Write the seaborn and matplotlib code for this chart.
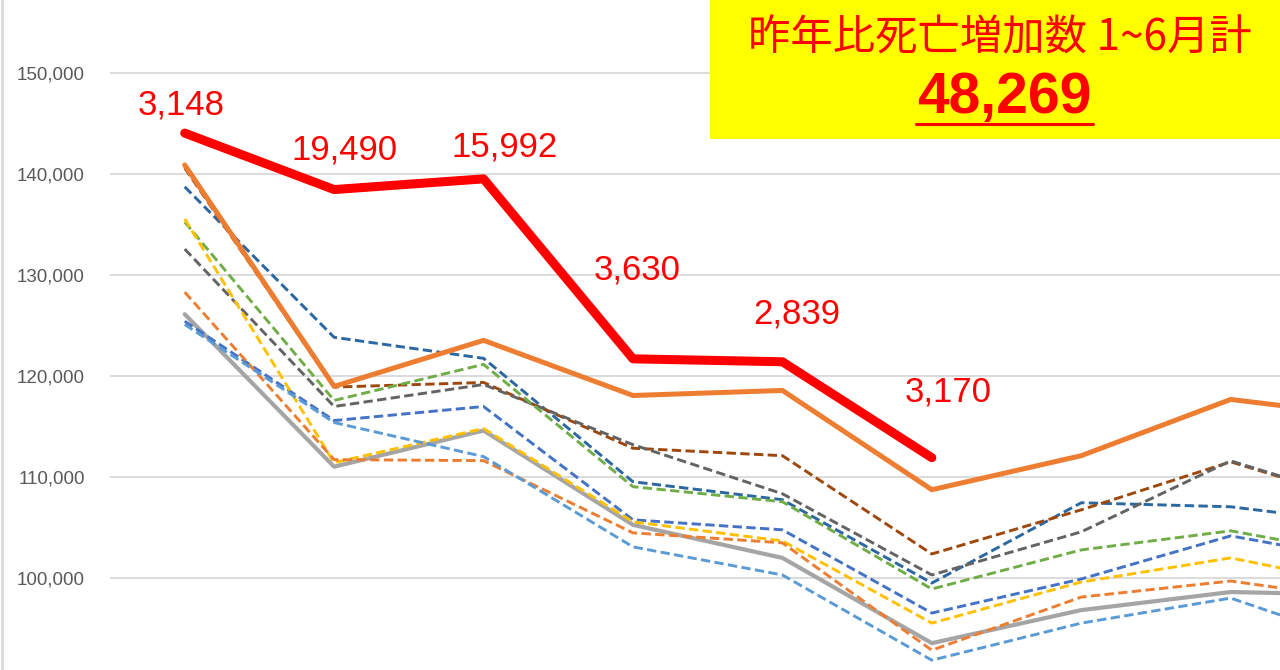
import matplotlib
matplotlib.use("Agg")
import matplotlib.pyplot as plt
from matplotlib.patches import Rectangle
from matplotlib.lines import Line2D
from matplotlib.ticker import FuncFormatter
import seaborn as sns

# months shown (chart is cut on the right, month 9 only partly visible)
months = [1, 2, 3, 4, 5, 6, 7, 8, 9]
months_now = [1, 2, 3, 4, 5, 6]

# past years, dashed lines
dark_blue = [138730, 123830, 121750, 109530, 107750, 99500, 107450, 107050, 105250]
brown = [140600, 118900, 119360, 112850, 112110, 102380, 106750, 111500, 107000]
dark_gray = [132570, 116980, 119160, 113200, 108340, 100300, 104570, 111600, 107050]
green = [135250, 117580, 121150, 109040, 107550, 98910, 102780, 104670, 101970]
mid_blue = [125420, 115590, 116980, 105760, 104770, 96530, 99900, 104170, 101500]
yellow = [135550, 111420, 114800, 105560, 103670, 95530, 99600, 101990, 98990]
orange_dash = [128300, 111720, 111620, 104470, 103480, 92850, 98110, 99700, 97630]
light_blue = [125100, 115390, 112020, 103080, 100300, 91860, 95530, 98010, 92970]

# solid lines
gray_solid = [126120, 111020, 114600, 105260, 101990, 93550, 96820, 98610, 98310]
last_year = [140900, 118970, 123530, 118070, 118570, 108740, 112110, 117680, 115880]
this_year = [144050, 138460, 139520, 121700, 121410, 111910]

increase_labels = ["3,148", "19,490", "15,992", "3,630", "2,839", "3,170"]
box_title = "昨年比死亡増加数 1~6月計"
box_total = "48,269"

sns.set_theme(style="white")
plt.rcParams["font.family"] = ["Liberation Sans", "Noto Sans CJK JP", "DejaVu Sans"]

W, H = 1280, 670
fig = plt.figure(figsize=(W / 100, H / 100), dpi=100)
ax = fig.add_axes([110 / W, 0, 1 - 110 / W, 1])

DASH = (3.2, 1.5)
dashed = [
    (dark_blue, "#2B67A0"),
    (brown, "#9E480E"),
    (dark_gray, "#636363"),
    (green, "#70AD47"),
    (mid_blue, "#4472C4"),
    (yellow, "#FFC000"),
    (orange_dash, "#ED7D31"),
    (light_blue, "#5B9BD5"),
]

sns.lineplot(x=months, y=gray_solid, ax=ax, color="#A5A5A5", linewidth=3.0, zorder=2)
for vals, col in dashed:
    sns.lineplot(x=months, y=vals, ax=ax, color=col, linewidth=2.1,
                 dashes=False, zorder=3).lines[-1].set_dashes(DASH)
sns.lineplot(x=months, y=last_year, ax=ax, color="#ED7D31", linewidth=3.6, zorder=4)
sns.lineplot(x=months_now, y=this_year, ax=ax, color="#FF0000", linewidth=6.5,
             zorder=5, solid_capstyle="round")

# label offsets (pixels) for the yearly increase numbers
offsets = [(-4, 28), (10, 40), (21, 32), (4, 89), (14, 48), (16, 66)]
for m, v, lab, (dx, dy) in zip(months_now, this_year, increase_labels, offsets):
    ax.annotate(lab, (m, v), xytext=(dx * 0.72, dy * 0.72), textcoords="offset points",
                ha="center", va="center", color="#FF0000", fontsize=25, zorder=6)

ax.set_xlim(0.5, 8.33)
ax.set_ylim(90890, 157230)
ax.set_xticks([])
ax.set_yticks(range(100000, 150001, 10000))
ax.yaxis.set_major_formatter(FuncFormatter(lambda v, p: f"{int(v):,}"))
ax.tick_params(axis="y", length=0, pad=18, labelsize=13.5, labelcolor="#595959")
ax.yaxis.grid(True, color="#D9D9D9", linewidth=1.3)
ax.set_axisbelow(True)
for s in ax.spines.values():
    s.set_visible(False)
ax.set_xlabel("")
ax.set_ylabel("")

# left border of the chart area
fig.add_artist(Line2D([2 / W, 2 / W], [0, 1], color="#D9D9D9", linewidth=2))

# yellow summary box
fig.add_artist(Rectangle((710 / W, 1 - 139 / H), 570 / W, 139 / H,
                         transform=fig.transFigure, facecolor="#FFFF00",
                         edgecolor="none", zorder=10))
fig.text(1000 / W, 1 - 38 / H, box_title, color="#FF0000", fontsize=30.5,
         ha="center", va="center", zorder=11,
         family=["Noto Sans CJK JP", "DejaVu Sans"])
fig.text(1004 / W, 1 - 98 / H, box_total, color="#FF0000", fontsize=41,
         fontweight="bold", ha="center", va="center", zorder=11)
fig.add_artist(Line2D([916 / W, 1093 / W], [1 - 124 / H, 1 - 124 / H],
                      color="#FF0000", linewidth=2.2, zorder=11))

fig.savefig("out.png", dpi=100)
